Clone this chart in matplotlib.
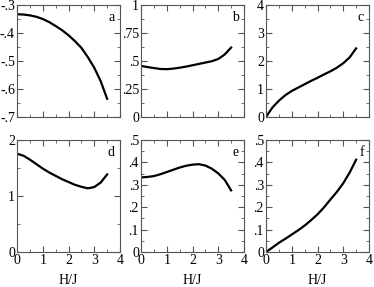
import numpy as np
import matplotlib.pyplot as plt
from matplotlib.ticker import MultipleLocator, FuncFormatter

plt.rcParams['font.family'] = ['Liberation Serif', 'DejaVu Serif']
plt.rcParams['font.size'] = 10

# values
hj = [0, 0.25, 0.5, 0.75, 1, 1.25, 1.5, 1.75, 2, 2.25, 2.5, 2.75, 3, 3.25, 3.5]
ya = [-0.333, -0.334, -0.337, -0.342, -0.350, -0.361, -0.375, -0.390, -0.408,
      -0.429, -0.453, -0.486, -0.524, -0.572, -0.635]
yb = [0.456, 0.446, 0.437, 0.429, 0.427, 0.432, 0.440, 0.450, 0.462,
      0.474, 0.486, 0.498, 0.518, 0.558, 0.620]
yc = [0.0, 0.34, 0.58, 0.78, 0.93, 1.05, 1.17, 1.29, 1.40,
      1.52, 1.63, 1.76, 1.92, 2.13, 2.45]
yd = [1.755, 1.72, 1.65, 1.57, 1.49, 1.42, 1.36, 1.30, 1.25,
      1.20, 1.165, 1.137, 1.16, 1.24, 1.385]
ye = [0.333, 0.335, 0.339, 0.347, 0.357, 0.367, 0.377, 0.385, 0.390,
      0.392, 0.386, 0.372, 0.351, 0.322, 0.275]
yf = [0.0, 0.020, 0.041, 0.059, 0.078, 0.097, 0.118, 0.142, 0.168,
      0.199, 0.234, 0.268, 0.307, 0.355, 0.412]

panels = [
    ('a', ya, (-0.7, -0.3), 0.1),
    ('b', yb, (0, 1), 0.25),
    ('c', yc, (0, 4), 1),
    ('d', yd, (0, 2), 1),
    ('e', ye, (0, 0.5), 0.1),
    ('f', yf, (0, 0.5), 0.1),
]

def fmt(v, pos):
    if abs(v) < 1e-9:
        return '0'
    if abs(v - round(v)) < 1e-9:
        return '%d' % round(v)
    s = ('%.2f' % v).rstrip('0')
    return s.replace('0.', '.')

fig = plt.figure(figsize=(3.74, 2.87), dpi=100)
W, H = 374., 287.
lefts = [17, 141, 266]
w = 103
tops = [5, 140]
h = 112

for i, (lab, y, ylim, maj) in enumerate(panels):
    r, c = divmod(i, 3)
    ax = fig.add_axes([lefts[c] / W, 1 - (tops[r] + h) / H, w / W, h / H])
    ax.plot(hj, y, color='black', lw=1.6)
    ax.set_xlim(0, 4)
    ax.set_ylim(*ylim)
    ax.xaxis.set_major_locator(MultipleLocator(1))
    ax.xaxis.set_minor_locator(MultipleLocator(0.5))
    ax.yaxis.set_major_locator(MultipleLocator(maj))
    ax.yaxis.set_minor_locator(MultipleLocator(maj / 2))
    ax.yaxis.set_major_formatter(FuncFormatter(fmt))
    ax.xaxis.set_major_formatter(FuncFormatter(fmt))
    ax.tick_params(which='both', direction='in', top=True, right=True,
                   color='#555555', pad=1.5)
    ax.tick_params(which='major', length=4)
    ax.tick_params(which='minor', length=2)
    for s in ax.spines.values():
        s.set_color('#555555')
        s.set_linewidth(0.8)
    if r == 0:
        ax.tick_params(labelbottom=False)
    else:
        ax.set_xlabel('H/J', labelpad=5)
    ax.text(0.95, 0.95, lab, transform=ax.transAxes, ha='right', va='top')

fig.savefig('out.png', dpi=100)
